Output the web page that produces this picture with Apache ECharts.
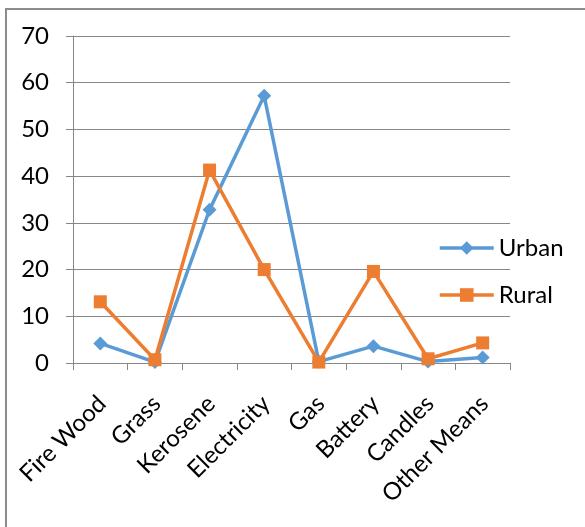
<!DOCTYPE html>
<html>
<head>
<meta charset="utf-8">
<script src="https://cdn.jsdelivr.net/npm/echarts@6/dist/echarts.min.js"></script>
<style>
  html, body { margin: 0; padding: 0; background: #fff; }
  #chart { width: 585px; height: 527px; }
</style>
</head>
<body>
<div id="chart"></div>
<script>
// Lighting sources by area (%)
const categories = ['Fire Wood', 'Grass', 'Kerosene', 'Electricity', 'Gas', 'Battery', 'Candles', 'Other Means'];
const urban = [4.2, 0.2, 32.8, 57.2, 0.3, 3.6, 0.3, 1.2];
const rural = [13.1, 0.7, 41.3, 20.0, 0.2, 19.6, 0.9, 4.3];
const yTicks = { min: 0, max: 70, interval: 10 };

const BLUE = '#5B9BD5';
const ORANGE = '#ED7D31';
const GRID_GREY = '#878787';
const FONT = 'Lato';

const chart = echarts.init(document.getElementById('chart'), null, { renderer: 'canvas' });

chart.setOption({
  backgroundColor: '#ffffff',
  animation: false,
  textStyle: { fontFamily: FONT },
  graphic: [{
    type: 'rect',
    shape: { x: 6, y: 9, width: 600, height: 540 },
    style: { fill: 'none', stroke: '#8c8c8c', lineWidth: 2 },
    silent: true
  }],
  grid: { left: 73, right: 75, top: 36, bottom: 164, containLabel: false },
  legend: {
    orient: 'vertical',
    left: 433,
    top: 231,
    itemWidth: 54,
    itemHeight: 17,
    itemGap: 23,
    lineStyle: { width: 3.5 },
    textStyle: { fontFamily: FONT, fontSize: 24, color: '#000' },
    data: ['Urban', 'Rural']
  },
  xAxis: {
    type: 'category',
    data: categories,
    boundaryGap: true,
    axisLine: { show: true, lineStyle: { color: GRID_GREY, width: 1 } },
    axisTick: { show: true, length: 7, alignWithLabel: false, lineStyle: { color: GRID_GREY } },
    axisLabel: {
      rotate: 45, margin: 35, verticalAlign: 'top', lineHeight: 5,
      fontFamily: FONT, fontSize: 24, color: '#000', interval: 0
    },
    splitLine: { show: false }
  },
  yAxis: {
    type: 'value',
    min: yTicks.min,
    max: yTicks.max,
    interval: yTicks.interval,
    axisLine: { show: true, lineStyle: { color: GRID_GREY, width: 1 } },
    axisTick: { show: true, length: 7, lineStyle: { color: GRID_GREY } },
    axisLabel: { margin: 24, fontFamily: FONT, fontSize: 24, color: '#000' },
    splitLine: { show: true, lineStyle: { color: GRID_GREY, width: 1 } }
  },
  series: [
    {
      name: 'Urban',
      type: 'line',
      data: urban,
      symbol: 'diamond',
      symbolSize: 14,
      lineStyle: { color: BLUE, width: 3.5 },
      itemStyle: { color: BLUE },
      z: 2
    },
    {
      name: 'Rural',
      type: 'line',
      data: rural,
      symbol: 'rect',
      symbolSize: 13,
      lineStyle: { color: ORANGE, width: 3.5 },
      itemStyle: { color: ORANGE },
      z: 3
    }
  ]
});
</script>
</body>
</html>
